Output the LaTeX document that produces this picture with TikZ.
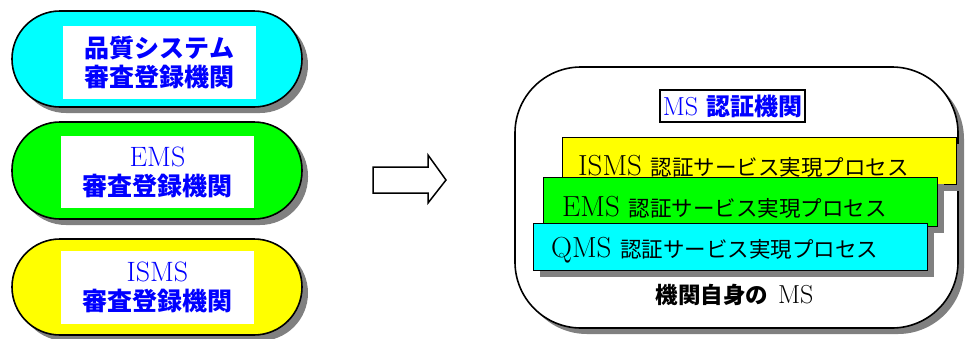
\documentclass[tikz,border=0pt]{standalone}
\usepackage{fontspec}
\newfontfamily\cjk{Noto Sans CJK JP}
\usetikzlibrary{shadows}
\definecolor{myblue}{RGB}{0,0,255}
\definecolor{shd}{RGB}{128,128,128}
\definecolor{mycyan}{RGB}{0,255,255}
\definecolor{mygreen}{RGB}{0,255,0}
\definecolor{myyellow}{RGB}{255,255,0}
\tikzset{
  sh/.style={drop shadow={shadow xshift=6pt, shadow yshift=-6pt, fill=shd, opacity=1}},
  pill/.style={draw, line width=1.6pt, rounded corners=48pt, minimum width=290pt, minimum height=96pt, sh},
  wbox/.style={fill=white, minimum width=193pt, minimum height=73pt, align=center, text=myblue, font=\fontsize{28}{29}\selectfont, inner sep=0pt},
  proc/.style={draw, line width=1.4pt, minimum width=394pt, minimum height=47pt, sh, anchor=north west, inner sep=0pt},
  ptext/.style={anchor=west, font=\fontsize{29}{30}\selectfont, inner sep=0pt},
}
\newcommand{\pj}[1]{{\cjk\fontsize{21.5}{25}\selectfont #1}}
\newcommand{\bj}[1]{{\cjk\bfseries\fontsize{25}{29}\selectfont #1}}
\begin{document}
\begin{tikzpicture}[x=1pt,y=-1pt]
\useasboundingbox (0,0) rectangle (972,338);
% left pills
\node[pill, fill=mycyan] (p1) at (157,59) {};
\node[wbox] (w1) at (159.5,62.5) {\bj{品質システム}\\\bj{審査登録機関}};
\node[pill, fill=mygreen, minimum height=97pt] (p2) at (157,170.5) {};
\node[wbox, minimum height=72pt] (w2) at (157.5,172) {EMS\\\bj{審査登録機関}};
\node[pill, fill=myyellow] (p3) at (157,287) {};
\node[wbox] (w3) at (157.5,287.5) {ISMS\\\bj{審査登録機関}};
% block arrow
\draw[line width=1.5pt, fill=white, line join=miter]
  (373,167) -- (428,167) -- (428,155) -- (446,180) -- (428,203) -- (428,193) -- (373,193) -- cycle;
% big rounded box
\node[draw, line width=1.6pt, rounded corners=66pt, minimum width=443pt, minimum height=261pt, fill=white, sh] (big) at (736.5,197.5) {};
\node[draw, line width=1.3pt, fill=white, minimum width=145pt, minimum height=32pt, inner sep=0pt, text=myblue] (ms) at (732.5,106)
  {\fontsize{26}{28}\selectfont MS {\cjk\bfseries\fontsize{24}{26}\selectfont 認証機関}};
% process boxes
\node[proc, fill=myyellow] (y) at (562,137) {};
\node[proc, fill=mygreen, minimum height=49pt] (g) at (543,177) {};
\node[proc, fill=mycyan] (c) at (533,223) {};
\node[ptext] (ty) at (578,166) {ISMS \pj{認証サービス実現プロセス}};
\node[ptext] (tg) at (562,207) {EMS \pj{認証サービス実現プロセス}};
\node[ptext] (tc) at (551,250) {QMS \pj{認証サービス実現プロセス}};
\node[inner sep=0pt] (own) at (734.5,295) {{\cjk\bfseries\fontsize{22.5}{24}\selectfont 機関自身の}\hspace{10pt}{\fontsize{26}{28}\selectfont MS}};
\end{tikzpicture}
\end{document}
